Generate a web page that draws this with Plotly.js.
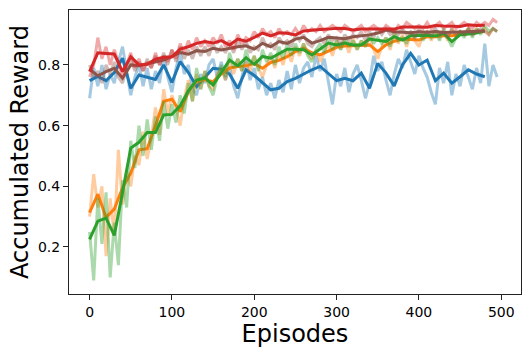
<!DOCTYPE html>
<html>
<head>
<meta charset="utf-8">
<script src="https://cdn.plot.ly/plotly-3.0.1.min.js"></script>
<style>
  body { margin: 0; background: #fff; }
  #chart { width: 532px; height: 354px; }
</style>
</head>
<body>
<div id="chart"></div>
<script>
// raw rewards, sampled every 5 episodes
var rawBlue = [0.69,0.79,0.73,0.80,0.72,0.77,0.74,0.81,0.86,0.78,0.70,0.76,0.80,0.73,0.79,0.72,0.78,0.74,0.83,0.76,
  0.71,0.79,0.84,0.77,0.80,0.72,0.70,0.77,0.74,0.80,0.82,0.76,0.81,0.75,0.79,0.73,0.69,0.76,0.82,0.75,
  0.79,0.72,0.76,0.70,0.74,0.69,0.75,0.71,0.78,0.72,0.80,0.74,0.79,0.81,0.76,0.83,0.78,0.82,0.74,0.67,
  0.77,0.73,0.79,0.71,0.77,0.80,0.75,0.69,0.74,0.83,0.78,0.81,0.75,0.70,0.77,0.82,0.79,0.85,0.81,0.77,
  0.83,0.79,0.76,0.71,0.67,0.79,0.74,0.81,0.70,0.77,0.73,0.80,0.76,0.72,0.79,0.74,0.87,0.73,0.80,0.76];
var rawOrange = [0.30,0.44,0.33,0.40,0.17,0.36,0.24,0.52,0.34,0.45,0.40,0.50,0.47,0.58,0.49,0.56,0.66,0.57,0.72,0.64,
  0.70,0.66,0.60,0.69,0.75,0.68,0.77,0.72,0.78,0.73,0.72,0.77,0.79,0.75,0.81,0.77,0.82,0.78,0.81,0.78,
  0.83,0.79,0.76,0.80,0.83,0.79,0.84,0.80,0.85,0.81,0.86,0.83,0.87,0.84,0.82,0.85,0.81,0.84,0.87,0.83,
  0.88,0.85,0.88,0.84,0.89,0.85,0.88,0.86,0.89,0.85,0.82,0.86,0.89,0.85,0.90,0.87,0.90,0.86,0.90,0.88,
  0.86,0.90,0.91,0.88,0.91,0.89,0.91,0.88,0.92,0.89,0.91,0.90,0.92,0.90,0.92,0.91,0.92,0.90,0.92,0.91];
var rawGreen = [0.25,0.09,0.36,0.21,0.38,0.10,0.28,0.14,0.42,0.33,0.55,0.46,0.60,0.50,0.62,0.52,0.63,0.55,0.68,0.59,
  0.67,0.61,0.70,0.64,0.74,0.68,0.79,0.72,0.78,0.73,0.70,0.76,0.80,0.76,0.84,0.79,0.82,0.78,0.85,0.80,
  0.83,0.78,0.85,0.81,0.84,0.80,0.86,0.82,0.87,0.83,0.87,0.84,0.87,0.83,0.81,0.85,0.87,0.84,0.89,0.85,
  0.88,0.85,0.89,0.86,0.88,0.85,0.88,0.86,0.90,0.87,0.89,0.87,0.89,0.86,0.91,0.88,0.89,0.87,0.91,0.89,
  0.91,0.88,0.91,0.89,0.91,0.88,0.92,0.89,0.86,0.89,0.91,0.89,0.92,0.89,0.92,0.90,0.93,0.91,0.92,0.91];
var rawBrown = [0.80,0.76,0.78,0.74,0.80,0.77,0.81,0.76,0.74,0.79,0.82,0.78,0.81,0.78,0.82,0.79,0.83,0.80,0.84,0.80,
  0.85,0.81,0.86,0.82,0.85,0.82,0.86,0.83,0.86,0.83,0.87,0.84,0.86,0.84,0.87,0.84,0.88,0.85,0.88,0.84,
  0.86,0.85,0.89,0.86,0.87,0.85,0.89,0.87,0.88,0.86,0.90,0.88,0.90,0.87,0.86,0.88,0.89,0.87,0.90,0.88,
  0.89,0.87,0.90,0.88,0.90,0.89,0.91,0.88,0.91,0.89,0.92,0.90,0.92,0.90,0.91,0.90,0.92,0.90,0.91,0.89,
  0.92,0.90,0.91,0.90,0.92,0.90,0.91,0.89,0.92,0.90,0.91,0.90,0.92,0.90,0.91,0.92,0.91,0.90,0.92,0.91];
var rawRed = [0.76,0.80,0.89,0.82,0.86,0.80,0.85,0.81,0.76,0.80,0.84,0.79,0.82,0.78,0.81,0.79,0.84,0.80,0.83,0.81,
  0.85,0.82,0.87,0.84,0.88,0.85,0.89,0.86,0.88,0.86,0.89,0.87,0.90,0.86,0.88,0.85,0.90,0.87,0.89,0.88,
  0.91,0.89,0.92,0.90,0.91,0.89,0.92,0.90,0.91,0.90,0.92,0.90,0.93,0.91,0.92,0.91,0.93,0.91,0.92,0.93,
  0.92,0.91,0.93,0.92,0.91,0.92,0.93,0.91,0.92,0.93,0.92,0.91,0.93,0.92,0.91,0.93,0.92,0.94,0.93,0.92,
  0.93,0.92,0.94,0.92,0.93,0.94,0.92,0.93,0.94,0.92,0.93,0.94,0.93,0.92,0.94,0.93,0.94,0.93,0.95,0.94];

// smoothed curves, one point every 10 episodes
var avgBlue = [0.748,0.762,0.748,0.775,0.822,0.723,0.767,0.760,0.752,0.800,0.742,0.811,0.775,0.729,0.760,0.789,0.786,
  0.770,0.723,0.784,0.765,0.740,0.718,0.723,0.745,0.756,0.770,0.784,0.795,0.770,0.748,0.756,0.748,0.773,
  0.723,0.805,0.773,0.731,0.800,0.838,0.800,0.816,0.748,0.773,0.740,0.761,0.784,0.770,0.761];
var avgOrange = [0.313,0.374,0.298,0.325,0.395,0.443,0.520,0.524,0.600,0.680,0.687,0.646,0.712,0.745,0.751,0.745,0.770,
  0.790,0.795,0.797,0.805,0.789,0.808,0.815,0.827,0.844,0.855,0.840,0.833,0.845,0.858,0.862,0.864,0.866,
  0.866,0.844,0.866,0.878,0.885,0.884,0.882,0.893,0.893,0.896,0.896,0.900,0.904,0.907,0.910];
var avgGreen = [0.225,0.285,0.295,0.238,0.380,0.526,0.545,0.577,0.577,0.635,0.637,0.665,0.715,0.750,0.757,0.734,0.775,
  0.816,0.797,0.824,0.802,0.828,0.822,0.838,0.852,0.852,0.850,0.833,0.852,0.872,0.866,0.872,0.866,0.866,
  0.885,0.880,0.877,0.893,0.882,0.896,0.896,0.898,0.895,0.904,0.877,0.899,0.902,0.905,0.913];
var avgBrown = [0.786,0.764,0.778,0.789,0.756,0.800,0.797,0.803,0.808,0.816,0.827,0.841,0.835,0.847,0.844,0.855,0.849,
  0.855,0.860,0.863,0.852,0.871,0.860,0.877,0.871,0.885,0.891,0.872,0.880,0.891,0.888,0.886,0.893,0.896,
  0.899,0.905,0.915,0.909,0.908,0.906,0.909,0.908,0.910,0.907,0.908,0.909,0.908,0.910,0.912];
var avgRed = [0.778,0.840,0.838,0.836,0.778,0.827,0.800,0.802,0.819,0.825,0.827,0.852,0.860,0.871,0.877,0.872,0.880,
  0.866,0.885,0.878,0.891,0.905,0.896,0.906,0.904,0.899,0.912,0.915,0.917,0.918,0.921,0.920,0.915,0.918,
  0.918,0.920,0.919,0.918,0.925,0.926,0.925,0.924,0.930,0.928,0.927,0.927,0.932,0.930,0.931];

var xTicks = [0, 100, 200, 300, 400, 500];
var yTicks = [0.2, 0.4, 0.6, 0.8];

function episodes(arr, step) {
  return arr.map(function (_, i) { return i * step; });
}

var series = [
  [rawBlue, avgBlue, '#1f77b4'],
  [rawOrange, avgOrange, '#ff7f0e'],
  [rawGreen, avgGreen, '#2ca02c'],
  [rawBrown, avgBrown, '#8c564b'],
  [rawRed, avgRed, '#d62728']
];

var data = [];
series.forEach(function (s) {
  data.push({
    x: episodes(s[0], 5), y: s[0], type: 'scatter', mode: 'lines',
    line: {color: s[2], width: 3}, opacity: 0.4, hoverinfo: 'skip'
  });
  data.push({
    x: episodes(s[1], 10), y: s[1], type: 'scatter', mode: 'lines',
    line: {color: s[2], width: 3}
  });
});

var axisStyle = {
  showline: true, mirror: true, linecolor: '#222', linewidth: 1,
  showgrid: false, zeroline: false,
  ticks: 'outside', ticklen: 5, tickcolor: '#222', tickwidth: 1,
  tickfont: {family: 'DejaVu Sans', size: 14, color: '#000'}
};

var layout = {
  width: 532, height: 354,
  margin: {l: 69, r: 11, t: 10, b: 60},
  showlegend: false,
  paper_bgcolor: '#fff', plot_bgcolor: '#fff',
  xaxis: Object.assign({}, axisStyle, {
    range: [-25, 524], tickvals: xTicks,
    title: {text: 'Episodes', font: {family: 'DejaVu Sans', size: 24, color: '#000'}, standoff: 3}
  }),
  yaxis: Object.assign({}, axisStyle, {
    range: [0.045, 0.981], tickvals: yTicks, ticktext: yTicks.map(function (v) { return v.toFixed(1); }),
    title: {text: 'Accumulated Reward', font: {family: 'DejaVu Sans', size: 24, color: '#000'}, standoff: 2}
  })
};

Plotly.newPlot('chart', data, layout, {displayModeBar: false, staticPlot: true});
</script>
</body>
</html>
